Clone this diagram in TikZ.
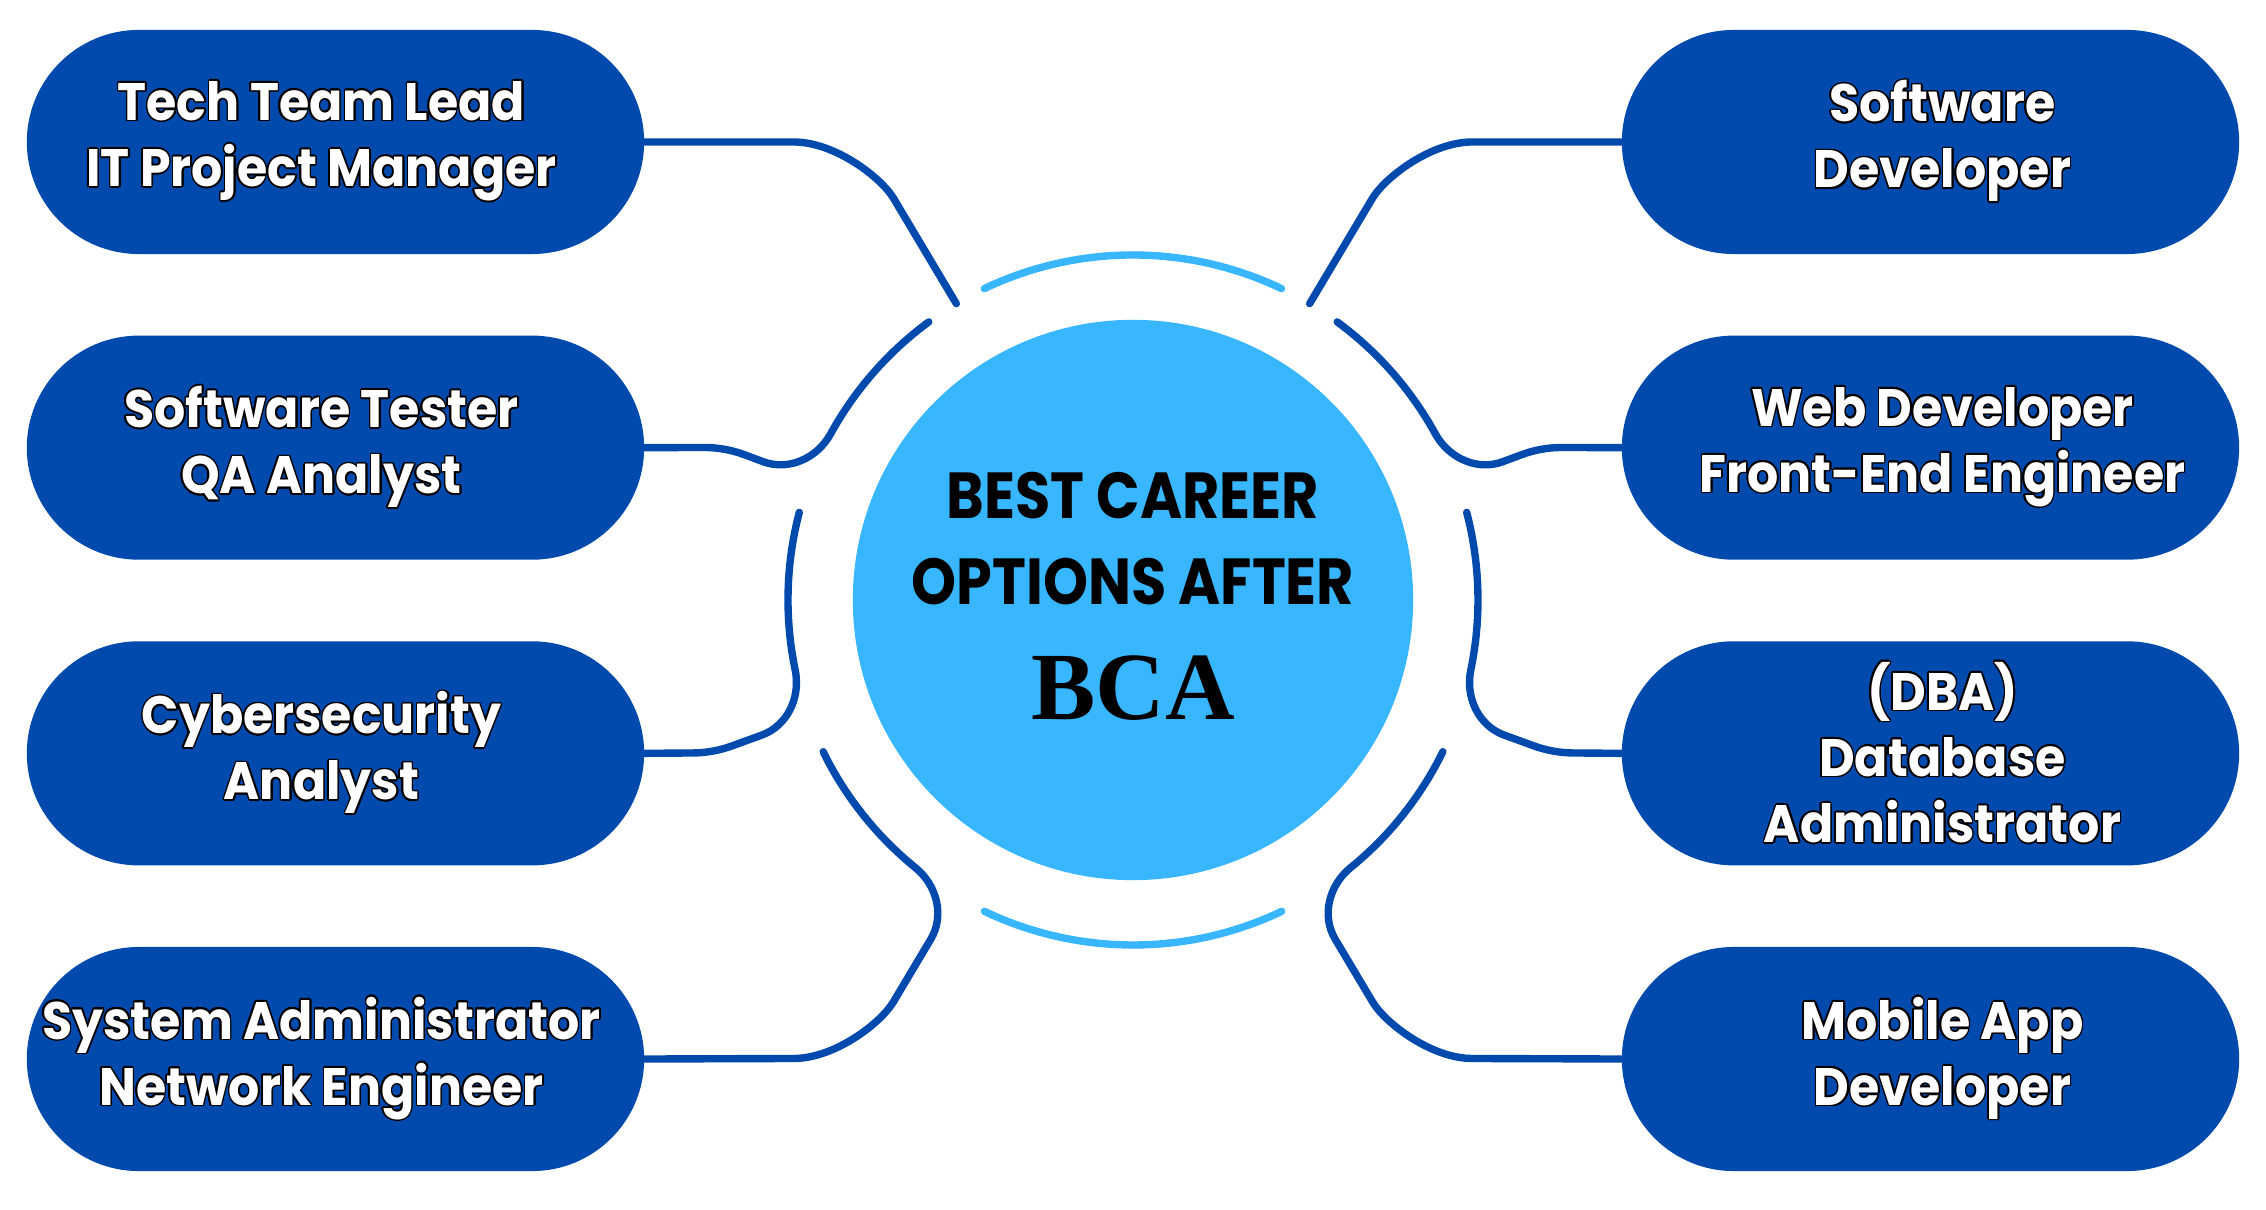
\documentclass[tikz,border=0pt]{standalone}
\usepackage{fontspec}
\setmainfont{Poppins}[FakeStretch=0.93]
\newfontfamily\headfont[FakeStretch=0.88]{Poppins}
\newfontfamily\bcafont{Liberation Serif}
\usepackage[copies]{contour}
\contourlength{0.45pt}
% outlined box text, nudged towards the outer edge
\newcommand{\westtext}[1]{\hbox{\kern-0.28cm\contour{black}{#1}}}
\newcommand{\easttext}[1]{\hbox{\kern0.24cm\contour{black}{#1}}}
\definecolor{deepblue}{HTML}{004AAD}
\definecolor{skyblue}{HTML}{38B6FF}

\begin{document}
\begin{tikzpicture}[x=0.01cm,y=0.01cm,node distance=3.055cm,
    career/.style={rectangle,rounded corners=1.12cm,fill=deepblue,minimum width=6.17cm,minimum height=2.24cm,inner sep=0pt,text=white,align=center,font=\bfseries\fontsize{15pt}{18.8pt}\selectfont},
    link/.style={draw=deepblue,line width=2.1pt,line cap=round},
    glow/.style={draw=skyblue,line width=2.1pt,line cap=round}]
      \useasboundingbox (-1133,-610) rectangle (1133,600);

      \node[circle,fill=skyblue,minimum size=5.6cm,inner sep=0pt] (core) at (0,0) {};
      \node[align=center,font=\headfont\bfseries\fontsize{18.5pt}{24.5pt}\selectfont] (title) at (0,61) {BEST CAREER\\OPTIONS AFTER};
      \node[font=\bcafont\bfseries\fontsize{27.4pt}{30pt}\selectfont] (bca) at (0,-88) {BCA};

      \node[career] (lead) at (-797.5,458) {\westtext{Tech Team Lead}\\\westtext{IT Project Manager}};
      \node[career,below of=lead] (tester) {\westtext{Software Tester}\\\westtext{QA Analyst}};
      \node[career,below of=tester] (security) {\westtext{Cybersecurity}\\\westtext{Analyst}};
      \node[career,below of=security] (sysadmin) {\westtext{System Administrator}\\\westtext{Network Engineer}};
      \node[career] (softdev) at (797.5,458) {\easttext{Software}\\\easttext{Developer}};
      \node[career,below of=softdev] (webdev) {\easttext{Web Developer}\\\easttext{Front-End Engineer}};
      \node[career,below of=webdev] (dba) {\easttext{(DBA)}\\\easttext{Database}\\\easttext{Administrator}};
      \node[career,below of=dba] (mobile) {\easttext{Mobile App}\\\easttext{Developer}};

      \draw[glow] (64.5:345) arc[start angle=64.5,end angle=115.5,radius=3.45cm];
      \draw[glow] (244.5:345) arc[start angle=244.5,end angle=295.5,radius=3.45cm];

      % left side
      \coordinate (leadend) at (120.8:345);
      \draw[link] (lead.east) -- (-339.2,458) .. controls (-298.3,458) and (120.8:492.3) .. (120.8:467.2) -- (leadend);
      \draw[link] (tester.east) -- (-428.9,152.5) .. controls (-415,152.5) and (159.5:428.4) .. (159.5:414.5) -- (159.5:395)
        .. controls (159.5:367.5) and (155.8:346.1) .. (151.2:345) arc[start angle=151.2,end angle=126.3,radius=3.45cm];
      \draw[link] (security.east) -- (-441.3,-153) .. controls (-427.4,-153) and (200:440.4) .. (200:426.3) -- (200:395)
        .. controls (200:367.5) and (196.3:346.1) .. (191.7:345) arc[start angle=191.7,end angle=165.3,radius=3.45cm];
      \draw[link] (sysadmin.east) -- (-339.3,-458.5) .. controls (-298.4,-458.5) and (239.2:492.9) .. (239.2:467.8) -- (239.2:395)
        .. controls (239.2:367.5) and (235.5:346.1) .. (230.9:345) arc[start angle=230.9,end angle=206.1,radius=3.45cm];

      % right side
      \coordinate (softdevend) at (59.2:345);
      \draw[link] (softdev.west) -- (339.2,458) .. controls (298.3,458) and (59.2:492.3) .. (59.2:467.2) -- (softdevend);
      \draw[link] (webdev.west) -- (428.9,152.5) .. controls (415,152.5) and (20.5:428.4) .. (20.5:414.5) -- (20.5:395)
        .. controls (20.5:367.5) and (24.2:346.1) .. (28.8:345) arc[start angle=28.8,end angle=53.7,radius=3.45cm];
      \draw[link] (dba.west) -- (441.3,-153) .. controls (427.4,-153) and (-20:440.4) .. (-20:426.3) -- (-20:395)
        .. controls (-20:367.5) and (-16.3:346.1) .. (-11.7:345) arc[start angle=-11.7,end angle=14.7,radius=3.45cm];
      \draw[link] (mobile.west) -- (339.3,-458.5) .. controls (298.4,-458.5) and (-59.2:492.9) .. (-59.2:467.8) -- (-59.2:395)
        .. controls (-59.2:367.5) and (-55.5:346.1) .. (-50.9:345) arc[start angle=-50.9,end angle=-26.1,radius=3.45cm];
    \end{tikzpicture}
\end{document}
